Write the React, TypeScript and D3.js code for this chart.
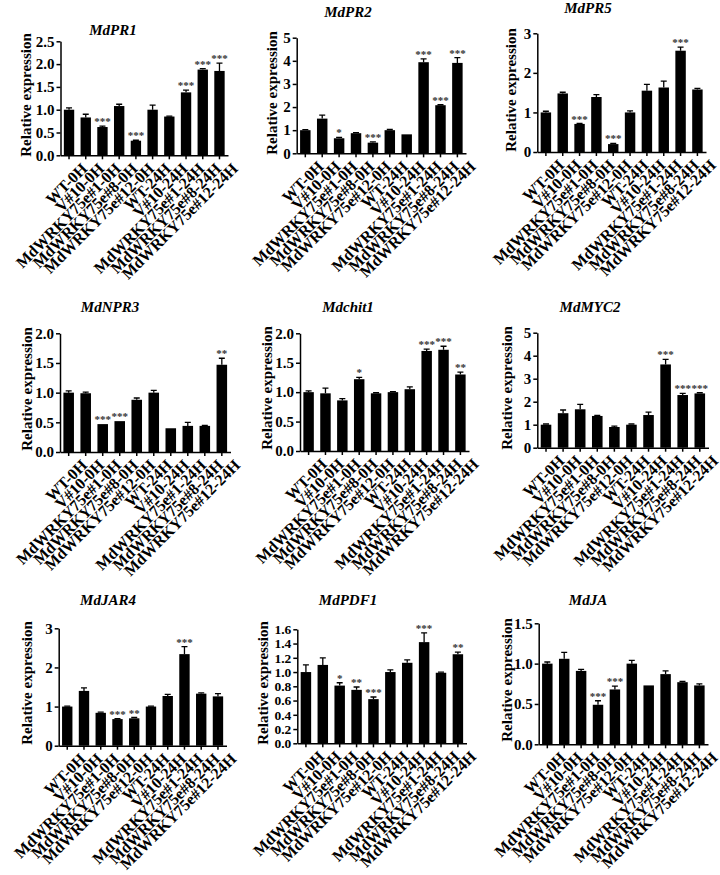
import React, { useRef, useEffect } from "react";
import * as d3 from "d3";

// sample groups, shared by every panel
const groups = [
  "WT-0H", "V#10-0H", "MdWRKY75e#1-0H", "MdWRKY75e#8-0H", "MdWRKY75e#12-0H",
  "WT-24H", "V#10-24H", "MdWRKY75e#1-24H", "MdWRKY75e#8-24H", "MdWRKY75e#12-24H",
];

// gene names
const genes = ["MdPR1", "MdPR2", "MdPR5", "MdNPR3", "Mdchit1", "MdMYC2", "MdJAR4", "MdPDF1", "MdJA"];

// mean relative expression per gene
const pr1Mean = [1.0, 0.83, 0.62, 1.08, 0.32, 1.0, 0.85, 1.38, 1.88, 1.85];
const pr2Mean = [1.0, 1.5, 0.65, 0.87, 0.46, 1.0, 0.82, 3.94, 2.08, 3.91];
const pr5Mean = [1.0, 1.48, 0.71, 1.39, 0.2, 1.0, 1.55, 1.63, 2.56, 1.58];
const npr3Mean = [1.0, 0.99, 0.47, 0.52, 0.88, 1.0, 0.4, 0.44, 0.44, 1.47];
const chitMean = [1.0, 0.98, 0.86, 1.22, 0.98, 1.0, 1.05, 1.7, 1.72, 1.3];
const myc2Mean = [1.0, 1.5, 1.67, 1.38, 0.9, 1.0, 1.42, 3.62, 2.29, 2.36];
const jar4Mean = [1.0, 1.4, 0.84, 0.68, 0.7, 1.0, 1.27, 2.34, 1.33, 1.26];
const pdf1Mean = [1.0, 1.1, 0.81, 0.75, 0.62, 1.0, 1.13, 1.42, 0.99, 1.25];
const jaMean = [1.0, 1.06, 0.91, 0.49, 0.68, 1.0, 0.73, 0.87, 0.77, 0.73];

// error bar (upper half)
const pr1Err = [0.04, 0.07, 0.02, 0.04, 0.01, 0.1, 0.01, 0.05, 0.02, 0.17];
const pr2Err = [0.02, 0.15, 0.04, 0.02, 0.03, 0.03, 0.0, 0.14, 0.02, 0.23];
const pr5Err = [0.03, 0.03, 0.01, 0.06, 0.02, 0.04, 0.16, 0.16, 0.09, 0.03];
const npr3Err = [0.03, 0.02, 0.0, 0.0, 0.03, 0.04, 0.0, 0.06, 0.01, 0.11];
const chitErr = [0.02, 0.09, 0.03, 0.03, 0.01, 0.01, 0.04, 0.03, 0.06, 0.04];
const myc2Err = [0.03, 0.14, 0.21, 0.02, 0.04, 0.03, 0.13, 0.22, 0.07, 0.03];
const jar4Err = [0.01, 0.08, 0.02, 0.01, 0.02, 0.01, 0.04, 0.19, 0.02, 0.07];
const pdf1Err = [0.1, 0.1, 0.04, 0.04, 0.03, 0.03, 0.04, 0.13, 0.01, 0.03];
const jaErr = [0.02, 0.08, 0.02, 0.05, 0.04, 0.04, 0.0, 0.04, 0.01, 0.02];

// significance marks
const pr1Sig = ["", "", "***", "", "***", "", "", "***", "***", "***"];
const pr2Sig = ["", "", "*", "", "***", "", "", "***", "***", "***"];
const pr5Sig = ["", "", "***", "", "***", "", "", "", "***", ""];
const npr3Sig = ["", "", "***", "***", "", "", "", "", "", "**"];
const chitSig = ["", "", "", "*", "", "", "", "***", "***", "**"];
const myc2Sig = ["", "", "", "", "", "", "", "***", "***", "***"];
const jar4Sig = ["", "", "", "***", "**", "", "", "***", "", ""];
const pdf1Sig = ["", "", "*", "**", "***", "", "", "***", "", "**"];
const jaSig = ["", "", "", "***", "***", "", "", "", "", ""];

// y-axis ticks
const ticksPR1 = [0, 0.5, 1, 1.5, 2, 2.5];
const ticks5 = [0, 1, 2, 3, 4, 5];
const ticks3 = [0, 1, 2, 3];
const ticks2 = [0, 0.5, 1, 1.5, 2];
const ticksPDF1 = [0, 0.2, 0.4, 0.6, 0.8, 1.0, 1.2, 1.4, 1.6];
const ticksJA = [0, 0.5, 1, 1.5];

const means = [pr1Mean, pr2Mean, pr5Mean, npr3Mean, chitMean, myc2Mean, jar4Mean, pdf1Mean, jaMean];
const errs = [pr1Err, pr2Err, pr5Err, npr3Err, chitErr, myc2Err, jar4Err, pdf1Err, jaErr];
const sigs = [pr1Sig, pr2Sig, pr5Sig, npr3Sig, chitSig, myc2Sig, jar4Sig, pdf1Sig, jaSig];
const tickSets = [ticksPR1, ticks5, ticks3, ticks2, ticks2, ticks5, ticks3, ticksPDF1, ticksJA];

// panel frames: axis x, right end, y of top tick, y of zero, title pos, y-label pos, tick font
const frames = [
  { x0: 60.5, x1: 228, yTop: 41.3, y0: 155.3, tx: 113, ty: 35, lx: 31, ly: 95, fs: 15 },
  { x0: 296.7, x1: 466, yTop: 37.7, y0: 153.3, tx: 348, ty: 17, lx: 277, ly: 93, fs: 15 },
  { x0: 537.3, x1: 706, yTop: 33.3, y0: 152, tx: 588, ty: 13, lx: 516, ly: 90, fs: 15 },
  { x0: 60, x1: 230.5, yTop: 333.3, y0: 452, tx: 110, ty: 312, lx: 32, ly: 389, fs: 15 },
  { x0: 300, x1: 469, yTop: 333.3, y0: 451, tx: 348, ty: 312, lx: 272, ly: 388, fs: 15 },
  { x0: 537.3, x1: 708.5, yTop: 332.7, y0: 447.7, tx: 590, ty: 312, lx: 512, ly: 388, fs: 15 },
  { x0: 58.7, x1: 226.5, yTop: 628.3, y0: 745.7, tx: 108, ty: 605, lx: 32, ly: 683, fs: 15 },
  { x0: 297.3, x1: 466.5, yTop: 629.3, y0: 743.3, tx: 348, ty: 605, lx: 268, ly: 683, fs: 13.5 },
  { x0: 538.7, x1: 708, yTop: 623.3, y0: 744.3, tx: 588, ty: 605, lx: 512, ly: 680, fs: 15 },
];

const FONT = "Liberation Serif, Times New Roman, DejaVu Serif, serif";

export default function App() {
  const ref = useRef<SVGSVGElement | null>(null);

  useEffect(() => {
    const svg = d3.select(ref.current);
    svg.selectAll("*").remove();

    genes.forEach((gene, gi) => {
      const f = frames[gi];
      const ticks = tickSets[gi];
      const g = svg.append("g");

      const x = d3.scaleBand().domain(groups).range([f.x0, f.x1]).paddingInner(0.38).paddingOuter(0.2);
      const y = d3.scaleLinear().domain([0, d3.max(ticks) as number]).range([f.y0, f.yTop]);
      const fmt = ticks.some(t => !Number.isInteger(t)) ? d3.format(".1f") : d3.format("d");

      const rows = groups.map((name, i) => ({ name, v: means[gi][i], e: errs[gi][i], s: sigs[gi][i] }));

      // bars
      g.selectAll(".bar").data(rows).join("rect")
        .attr("x", d => x(d.name) as number)
        .attr("width", x.bandwidth())
        .attr("y", d => y(d.v))
        .attr("height", d => f.y0 - y(d.v))
        .attr("fill", "#000");

      // error bars
      const cap = 3;
      g.selectAll(".err").data(rows.filter(d => d.e > 0)).join("path")
        .attr("d", d => {
          const cx = (x(d.name) as number) + x.bandwidth() / 2;
          const yt = y(d.v + d.e);
          return `M${cx},${y(d.v)}V${yt}M${cx - cap},${yt}H${cx + cap}`;
        })
        .attr("stroke", "#000").attr("stroke-width", 1.3).attr("fill", "none");

      // significance stars
      g.selectAll(".sig").data(rows.filter(d => d.s)).join("text")
        .attr("x", d => (x(d.name) as number) + x.bandwidth() / 2)
        .attr("y", d => y(d.v + d.e) - 1)
        .attr("text-anchor", "middle")
        .style("font-family", FONT)
        .style("font-size", "11px")
        .style("font-weight", "bold")
        .attr("fill", "#333")
        .text(d => d.s);

      // y axis
      const ya = g.append("g")
        .attr("transform", `translate(${f.x0},0)`)
        .call(d3.axisLeft(y).tickValues(ticks).tickFormat(d => fmt(d as number)).tickSize(4).tickSizeOuter(0).tickPadding(2));
      ya.select(".domain").attr("stroke-width", 1.5);
      ya.selectAll(".tick line").attr("stroke-width", 1.5);
      ya.selectAll("text")
        .style("font-family", FONT).style("font-size", `${f.fs}px`).style("font-weight", "bold")
        .attr("fill", "#000");

      // x axis
      const xa = g.append("g")
        .attr("transform", `translate(0,${f.y0})`)
        .call(d3.axisBottom(x).tickSize(4).tickSizeOuter(0));
      xa.select(".domain").attr("stroke-width", 1.5);
      xa.selectAll(".tick line").attr("stroke-width", 1.5);
      xa.selectAll("text")
        .style("font-family", FONT).style("font-size", "16px").style("font-weight", "bold")
        .attr("fill", "#000")
        .attr("text-anchor", "end")
        .attr("transform", "translate(7,2) rotate(-45)")
        .attr("dy", "0.71em").attr("y", 6);

      // title
      g.append("text")
        .attr("x", f.tx).attr("y", f.ty)
        .attr("text-anchor", "middle")
        .style("font-family", FONT).style("font-size", "15px").style("font-weight", "bold").style("font-style", "italic")
        .text(gene);

      // y label
      g.append("text")
        .attr("transform", `translate(${f.lx},${f.ly}) rotate(-90)`)
        .attr("text-anchor", "middle")
        .style("font-family", FONT).style("font-size", "15px").style("font-weight", "bold")
        .text("Relative expression");
    });
  }, []);

  return (
    <div style={{ position: "absolute", left: 0, top: 0, background: "#fff" }}>
      <svg ref={ref} width={720} height={875} />
    </div>
  );
}
